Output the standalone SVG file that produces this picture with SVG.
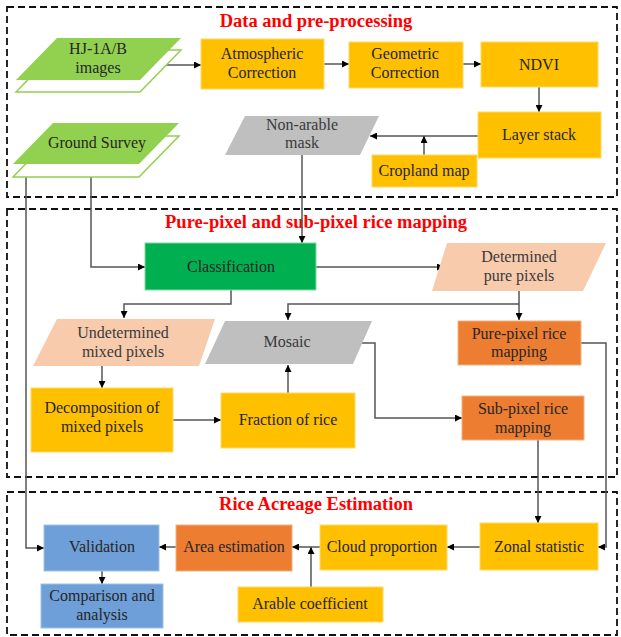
<svg xmlns="http://www.w3.org/2000/svg" width="621" height="637" viewBox="0 0 621 637">
<defs>
<marker id="ah" viewBox="0 0 10 10" refX="10" refY="5" markerWidth="7" markerHeight="7" markerUnits="userSpaceOnUse" orient="auto">
<path d="M0,0 L10,5 L0,10 z" fill="#000"/>
</marker>
<style>
.frame{fill:none;stroke:#111;stroke-width:1.8;stroke-dasharray:7,4}
.title{font-family:"Liberation Serif",serif;font-weight:bold;font-size:18.5px;fill:#ff0000;text-anchor:middle}
.t{font-family:"Liberation Serif",serif;font-size:16px;fill:#262626;text-anchor:middle}
.tg{font-family:"Liberation Serif",serif;font-size:16px;fill:#3a3a3a;text-anchor:middle}
.yellow{fill:#ffc000;stroke:#ffd966;stroke-width:1}
.orange{fill:#ed7d31;stroke:#f4b183;stroke-width:1}
.blue{fill:#6f9fd8;stroke:#9dc3e6;stroke-width:1}
.green{fill:#00b050;stroke:#7fd8a5;stroke-width:1}
.gray{fill:#bfbfbf}
.peach{fill:#f8cbad}
.lgreen{fill:#92d050}
.back{fill:#fff;stroke:#92d050;stroke-width:1.5}
.c{fill:none;stroke:#555;stroke-width:1.5}
.ca{fill:none;stroke:#555;stroke-width:1.5;marker-end:url(#ah)}
</style>
</defs>
<rect width="621" height="637" fill="#fff"/>

<g id="frames">
<rect class="frame" x="7" y="7" width="610" height="190"/>
<rect class="frame" x="7" y="209" width="610" height="268"/>
<rect class="frame" x="7" y="492" width="610" height="143"/>
<text class="title" x="316" y="27">Data and pre-processing</text>
<text class="title" x="316" y="228">Pure-pixel and sub-pixel rice mapping</text>
<text class="title" x="316" y="510">Rice Acreage Estimation</text>
</g>

<g id="connectors">
<path class="ca" d="M164,65 H201"/>
<path class="ca" d="M324,64 H349"/>
<path class="ca" d="M463,64 H481"/>
<path class="ca" d="M539,87 V112"/>
<path class="ca" d="M478,136 H370"/>
<path class="ca" d="M424,155 V136"/>
<path class="ca" d="M302,155 V243"/>
<path class="ca" d="M91,176 V267 H145"/>
<path class="ca" d="M26,176 V548 H44"/>
<path class="ca" d="M316,267 H444"/>
<path class="ca" d="M519,291 V320"/>
<path class="ca" d="M519,304 H288 V320"/>
<path class="ca" d="M231,290 V304 H124 V318"/>
<path class="ca" d="M102,366 V388"/>
<path class="ca" d="M173,420 H221"/>
<path class="ca" d="M288,393 V365"/>
<path class="ca" d="M361,343 H375 V418 H462"/>
<path class="ca" d="M581,343 H606 V547 H598"/>
<path class="ca" d="M538,440 V523"/>
<path class="ca" d="M480,547 H447"/>
<path class="ca" d="M320,547 H292"/>
<path class="ca" d="M311,587 V547"/>
<path class="ca" d="M176,547 H159"/>
<path class="ca" d="M102,571 V584"/>
</g>

<g id="hj">
<polygon class="back" points="57,50 181,50 140,92 16,92"/>
<polygon class="lgreen" points="57,38 181,38 140,80 16,80"/>
<text class="t" x="98" y="54">HJ-1A/B</text>
<text class="t" x="98" y="73">images</text>
</g>
<g id="ground">
<polygon class="back" points="53,136 179,136 139,177 13,177"/>
<polygon class="lgreen" points="53,123 179,123 139,164 13,164"/>
<text class="t" x="97" y="148">Ground Survey</text>
</g>
<g id="atmo">
<rect class="yellow" x="201" y="39" width="123" height="50"/>
<text class="t" x="262" y="59">Atmospheric</text>
<text class="t" x="262" y="78">Correction</text>
</g>
<g id="geo">
<rect class="yellow" x="349" y="42" width="114" height="46"/>
<text class="t" x="405" y="59">Geometric</text>
<text class="t" x="405" y="78">Correction</text>
</g>
<g id="ndvi">
<rect class="yellow" x="481" y="42" width="117" height="45"/>
<text class="t" x="539" y="70">NDVI</text>
</g>
<g id="layer">
<rect class="yellow" x="478" y="112" width="123" height="46"/>
<text class="t" x="539" y="140">Layer stack</text>
</g>
<g id="cropland">
<rect class="yellow" x="372" y="155" width="105" height="32"/>
<text class="t" x="424" y="176">Cropland map</text>
</g>
<g id="mask">
<polygon class="gray" points="245,116 379,116 360,155 225,155"/>
<text class="tg" x="302" y="130">Non-arable</text>
<text class="tg" x="302" y="148">mask</text>
</g>
<g id="classification">
<rect class="green" x="145" y="243" width="171" height="47"/>
<text class="t" x="231" y="272">Classification</text>
</g>
<g id="determined">
<polygon class="peach" points="447,243 606,243 583,291 432,291"/>
<text class="tg" x="519" y="262">Determined</text>
<text class="tg" x="519" y="281">pure pixels</text>
</g>
<g id="undetermined">
<polygon class="peach" points="57,319 215,319 199,366 33,366"/>
<text class="tg" x="123" y="338">Undetermined</text>
<text class="tg" x="123" y="357">mixed pixels</text>
</g>
<g id="mosaic">
<polygon class="gray" points="225,321 372,321 353,364 205,364"/>
<text class="tg" x="287" y="347">Mosaic</text>
</g>
<g id="decomp">
<rect class="yellow" x="31" y="388" width="142" height="64"/>
<text class="t" x="102" y="413">Decomposition of</text>
<text class="t" x="102" y="432">mixed pixels</text>
</g>
<g id="fraction">
<rect class="yellow" x="221" y="393" width="134" height="55"/>
<text class="t" x="288" y="425">Fraction of rice</text>
</g>
<g id="pure">
<rect class="orange" x="458" y="321" width="123" height="44"/>
<text class="t" x="519" y="339">Pure-pixel rice</text>
<text class="t" x="519" y="357">mapping</text>
</g>
<g id="sub">
<rect class="orange" x="462" y="396" width="122" height="44"/>
<text class="t" x="523" y="414">Sub-pixel rice</text>
<text class="t" x="523" y="433">mapping</text>
</g>
<g id="zonal">
<rect class="yellow" x="480" y="523" width="118" height="47"/>
<text class="t" x="539" y="552">Zonal statistic</text>
</g>
<g id="cloud">
<rect class="yellow" x="320" y="525" width="127" height="45"/>
<text class="t" x="382" y="552">Cloud proportion</text>
</g>
<g id="arable">
<rect class="yellow" x="238" y="587" width="145" height="35"/>
<text class="t" x="310" y="609">Arable coefficient</text>
</g>
<g id="area">
<rect class="orange" x="176" y="525" width="116" height="46"/>
<text class="t" x="234" y="552">Area estimation</text>
</g>
<g id="validation">
<rect class="blue" x="44" y="525" width="115" height="46"/>
<text class="t" x="102" y="552">Validation</text>
</g>
<g id="comparison">
<rect class="blue" x="41" y="584" width="122" height="44"/>
<text class="t" x="102" y="601">Comparison and</text>
<text class="t" x="102" y="620">analysis</text>
</g>
</svg>
